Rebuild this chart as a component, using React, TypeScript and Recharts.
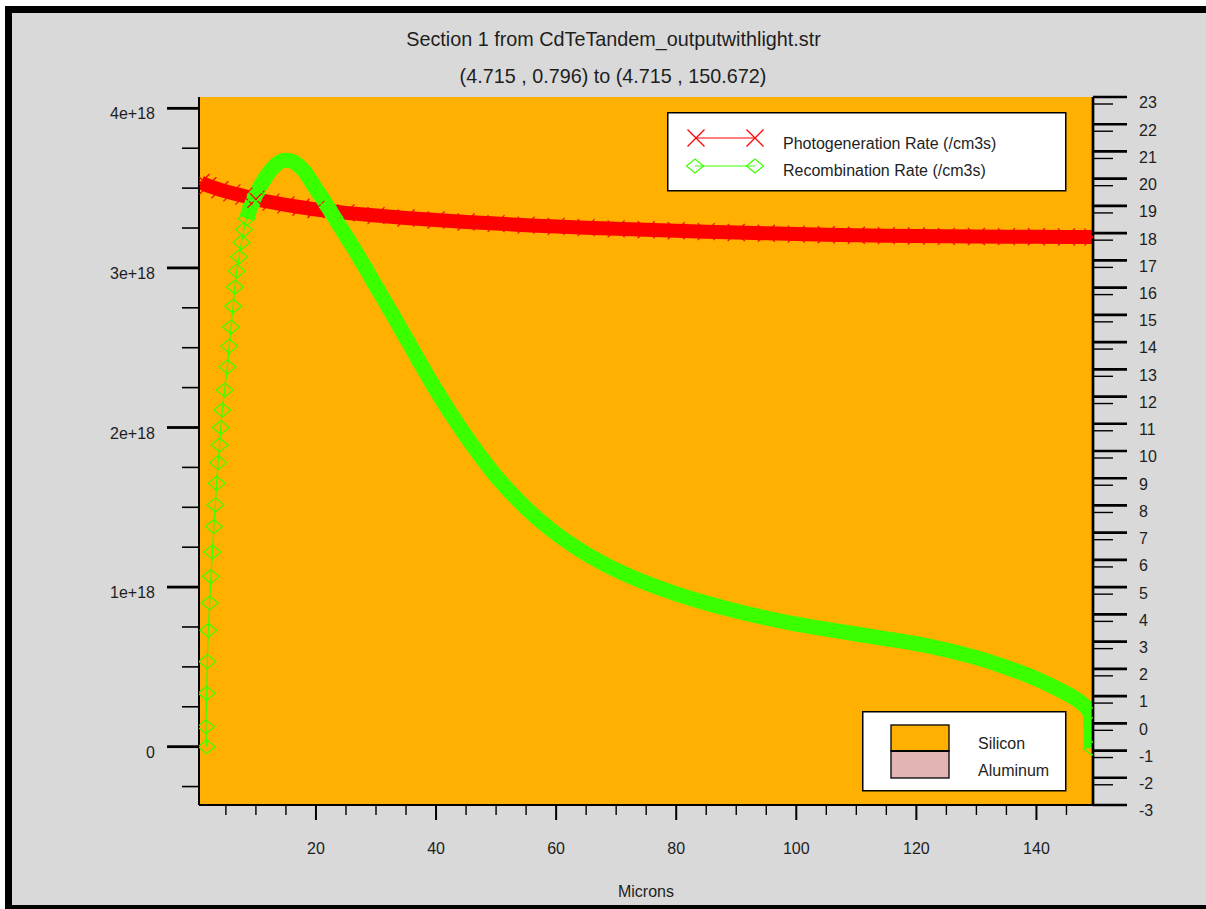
import React from 'react';
import { LineChart, Line, XAxis, YAxis, CartesianGrid, Legend } from 'recharts';

const FONT = '"Liberation Sans", Arial, sans-serif';
const INK = '#1e1e1e';
const ORANGE = '#FFB000';
const PINK = '#E2B4B4';
const RED = '#FF0000';
const GREEN = '#3BFF00';

const TITLE = 'Section 1 from CdTeTandem_outputwithlight.str';
const SUBTITLE = '(4.715 , 0.796) to (4.715 , 150.672)';

// photogeneration rate, units of 1e18 /cm3s
const photoMicrons = [0.85, 2, 4, 6, 8, 10, 12.5, 15, 17.5, 20, 25, 30, 35, 40, 45, 50, 55, 60, 65, 70, 75, 80, 85, 90, 95, 100, 105, 110, 115, 120, 125, 130, 135, 140, 145, 149.4];
const photoRate = [3.535, 3.515, 3.49, 3.47, 3.45, 3.43, 3.412, 3.395, 3.38, 3.366, 3.345, 3.328, 3.313, 3.3, 3.288, 3.278, 3.268, 3.26, 3.252, 3.245, 3.239, 3.233, 3.227, 3.222, 3.217, 3.212, 3.208, 3.205, 3.202, 3.2, 3.198, 3.197, 3.196, 3.195, 3.194, 3.193];

// recombination rate, units of 1e18 /cm3s
const recombMicrons = [1.8, 1.68, 1.8, 1.9, 2.07, 2.3, 2.5, 2.75, 3.0, 3.25, 3.45, 3.7, 3.95, 4.15, 4.4, 4.8, 5.25, 5.55, 5.85, 6.2, 6.5, 6.8, 7.2, 7.6, 8.0, 8.45, 9.2, 10, 11, 12, 13, 14, 15, 16, 17, 18, 19, 20, 21, 22, 23, 24, 25, 26, 28, 30, 32.5, 35, 37.5, 40, 42.5, 45, 47.5, 50, 52.5, 55, 57.5, 60, 62.5, 65, 67.5, 70, 75, 80, 85, 90, 95, 100, 105, 110, 115, 120, 125, 130, 135, 140, 143, 146, 147.7, 148.9, 149.2];
const recombRate = [0.0, 0.125, 0.335, 0.533, 0.73, 0.9, 1.066, 1.22, 1.38, 1.515, 1.65, 1.78, 1.89, 2.0, 2.11, 2.235, 2.38, 2.51, 2.63, 2.76, 2.88, 2.98, 3.07, 3.16, 3.24, 3.31, 3.39, 3.46, 3.53, 3.59, 3.635, 3.665, 3.675, 3.668, 3.645, 3.61, 3.555, 3.495, 3.44, 3.38, 3.32, 3.26, 3.2, 3.14, 3.015, 2.885, 2.725, 2.56, 2.395, 2.235, 2.085, 1.945, 1.815, 1.695, 1.59, 1.495, 1.41, 1.335, 1.268, 1.208, 1.155, 1.107, 1.025, 0.958, 0.9, 0.85, 0.806, 0.768, 0.736, 0.706, 0.676, 0.645, 0.606, 0.558, 0.497, 0.425, 0.372, 0.312, 0.268, 0.212, -0.01];

const xTicks = [5, 10, 15, 20, 25, 30, 35, 40, 45, 50, 55, 60, 65, 70, 75, 80, 85, 90, 95, 100, 105, 110, 115, 120, 125, 130, 135, 140, 145];
const leftTicks = [-0.25, 0, 0.25, 0.5, 0.75, 1, 1.25, 1.5, 1.75, 2, 2.25, 2.5, 2.75, 3, 3.25, 3.5, 3.75, 4];
const rightTicks = [-3, -2, -1, 0, 1, 2, 3, 4, 5, 6, 7, 8, 9, 10, 11, 12, 13, 14, 15, 16, 17, 18, 19, 20, 21, 22, 23];

const photoData = photoMicrons.map((x, i) => ({ x, rate: photoRate[i] }));
const recombData = recombMicrons.map((x, i) => ({ x, rate: recombRate[i] }));
// the mesh gets dense past ~8.4um, markers merge into a solid band there
const recombBand = recombData.filter((d) => d.x >= 8.4);

const textStyle = { fontFamily: FONT, fontSize: 16, fill: INK } as const;

function XMark({ cx, cy, color = RED }: { cx: number; cy: number; color?: string }) {
  return (
    <path
      d={`M${cx - 8.5},${cy - 8.5}L${cx + 8.5},${cy + 8.5}M${cx - 8.5},${cy + 8.5}L${cx + 8.5},${cy - 8.5}`}
      stroke={color}
      strokeWidth={1.2}
      fill="none"
    />
  );
}

function Diamond({ cx, cy }: { cx: number; cy: number }) {
  return (
    <path
      d={`M${cx - 8.5},${cy}L${cx},${cy - 7}L${cx + 8.5},${cy}L${cx},${cy + 7}Z`}
      stroke={GREEN}
      strokeWidth={1.2}
      fill="none"
    />
  );
}

function renderXDot(p: any) {
  if (p.cx == null || p.cy == null) return <g key={p.key} />;
  return <XMark key={p.key} cx={p.cx} cy={p.cy} />;
}

function renderDiamondDot(p: any) {
  if (p.cx == null || p.cy == null) return <g key={p.key} />;
  return <Diamond key={p.key} cx={p.cx} cy={p.cy} />;
}

function LeftTick({ x, y, payload }: any) {
  const v = payload.value;
  const major = Number.isInteger(v);
  return (
    <g>
      <line x1={x - (major ? 32 : 17)} x2={x} y1={y} y2={y} stroke="#000" strokeWidth={major ? 2.8 : 1.6} />
      {major && (
        <text x={x - 44} y={y + 11} textAnchor="end" {...textStyle}>
          {v === 0 ? '0' : `${v}e+18`}
        </text>
      )}
    </g>
  );
}

function RightTick({ x, y, payload }: any) {
  const v = payload.value;
  return (
    <g>
      <line x1={x} x2={x + 34} y1={y} y2={y} stroke="#000" strokeWidth={2.7} />
      {v !== -3 && <line x1={x} x2={x + 20} y1={y + 7} y2={y + 7} stroke="#000" strokeWidth={1.4} />}
      <text x={x + 46} y={y + 11.4} textAnchor="start" {...textStyle}>
        {v}
      </text>
    </g>
  );
}

function BottomTick({ x, y, payload }: any) {
  const v = payload.value;
  const major = v % 20 === 0;
  return (
    <g>
      <line x1={x} x2={x} y1={y} y2={y + (major ? 15 : 10)} stroke="#000" strokeWidth={major ? 2 : 1.4} />
      {major && (
        <text x={x} y={y + 48.5} textAnchor="middle" {...textStyle}>
          {v}
        </text>
      )}
    </g>
  );
}

function MicronsLabel({ viewBox }: any) {
  const { x, y, width } = viewBox;
  return (
    <text x={x + width / 2} y={y + 91.5} textAnchor="middle" {...textStyle}>
      Microns
    </text>
  );
}

function SeriesLegend() {
  return (
    <svg width={400} height={80} style={{ display: 'block' }}>
      <rect x={0.75} y={0.75} width={398} height={78} fill="#fff" stroke="#000" strokeWidth={1.5} />
      <line x1={29} x2={88} y1={26} y2={26} stroke={RED} strokeWidth={1.2} />
      <XMark cx={29} cy={26} />
      <XMark cx={88} cy={26} />
      <text x={116} y={36.5} {...textStyle}>
        Photogeneration Rate (/cm3s)
      </text>
      <line x1={28} x2={88} y1={54} y2={54} stroke={GREEN} strokeWidth={1.2} />
      <Diamond cx={28} cy={54} />
      <Diamond cx={88} cy={54} />
      <text x={116} y={63.5} {...textStyle}>
        Recombination Rate (/cm3s)
      </text>
    </svg>
  );
}

export default function App() {
  return (
    <div style={{ position: 'absolute', left: 0, top: 0, width: 1206, height: 909, background: '#fff', overflow: 'hidden' }}>
      <div style={{ position: 'absolute', left: 5, top: 6, right: 0, bottom: 0, background: '#000' }} />
      <div style={{ position: 'absolute', left: 12, top: 13, width: 1194, height: 892, background: '#D9D9D9' }} />
      <div style={{ position: 'absolute', left: 0, top: 0 }}>
        <LineChart width={1206} height={909} margin={{ top: 97, right: 0, bottom: 0, left: 0 }}>
          <CartesianGrid horizontal={false} vertical={false} fill={ORANGE} />
          <XAxis
            dataKey="x"
            type="number"
            domain={[0.52, 149.42]}
            allowDataOverflow
            ticks={xTicks}
            interval={0}
            height={104}
            tickSize={0}
            tickMargin={0}
            tickLine={false}
            axisLine={{ stroke: '#000', strokeWidth: 2 }}
            tick={(p: any) => <BottomTick {...p} />}
            label={<MicronsLabel />}
          />
          <XAxis
            xAxisId="top"
            orientation="top"
            type="number"
            domain={[0.52, 149.42]}
            allowDataOverflow
            height={0}
            tick={false}
            tickLine={false}
            axisLine={{ stroke: '#000', strokeWidth: 1.8 }}
          />
          <YAxis
            type="number"
            domain={[-0.3655, 4.071]}
            allowDataOverflow
            ticks={leftTicks}
            interval={0}
            width={199}
            tickSize={0}
            tickMargin={0}
            tickLine={false}
            axisLine={{ stroke: '#000', strokeWidth: 2 }}
            tick={(p: any) => <LeftTick {...p} />}
          />
          <YAxis
            yAxisId="right"
            orientation="right"
            type="number"
            domain={[-3, 23]}
            allowDataOverflow
            ticks={rightTicks}
            interval={0}
            width={113}
            tickSize={0}
            tickMargin={0}
            tickLine={false}
            axisLine={{ stroke: '#000', strokeWidth: 2.7 }}
            tick={(p: any) => <RightTick {...p} />}
          />
          <Legend
            verticalAlign="middle"
            align="center"
            layout="horizontal"
            content={<SeriesLegend />}
            wrapperStyle={{ position: 'absolute', left: 667, top: 112, width: 400, height: 80 }}
          />
          <Line
            data={photoData}
            dataKey="rate"
            type="linear"
            stroke={RED}
            strokeWidth={14}
            strokeLinejoin="round"
            dot={false}
            activeDot={false}
            legendType="none"
            isAnimationActive={false}
          />
          <Line
            data={photoData}
            dataKey="rate"
            type="linear"
            stroke={RED}
            strokeWidth={1.2}
            dot={renderXDot}
            activeDot={false}
            isAnimationActive={false}
          />
          <Line
            data={recombBand}
            dataKey="rate"
            type="monotone"
            stroke={GREEN}
            strokeWidth={15}
            strokeLinejoin="round"
            dot={false}
            activeDot={false}
            legendType="none"
            isAnimationActive={false}
          />
          <Line
            data={recombData}
            dataKey="rate"
            type="linear"
            stroke={GREEN}
            strokeWidth={1.2}
            dot={renderDiamondDot}
            activeDot={false}
            isAnimationActive={false}
          />
        </LineChart>
      </div>
      <svg width={1206} height={909} style={{ position: 'absolute', left: 0, top: 0, pointerEvents: 'none' }}>
        <text x={613.5} y={46} textAnchor="middle" fontFamily={FONT} fontSize={19.8} fill={INK}>
          {TITLE}
        </text>
        <text x={613} y={83} textAnchor="middle" fontFamily={FONT} fontSize={19.8} fill={INK}>
          {SUBTITLE}
        </text>
        <rect x={862.75} y={711.75} width={203} height={79} fill="#fff" stroke="#000" strokeWidth={1.5} />
        <rect x={891} y={725} width={58} height={26} fill={ORANGE} stroke="#000" strokeWidth={1.3} />
        <rect x={891} y={751} width={58} height={27} fill={PINK} stroke="#000" strokeWidth={1.3} />
        <line x1={891} x2={949} y1={751} y2={751} stroke="#000" strokeWidth={2.2} />
        <text x={978} y={748.5} {...textStyle}>
          Silicon
        </text>
        <text x={978} y={775.5} {...textStyle}>
          Aluminum
        </text>
      </svg>
    </div>
  );
}
